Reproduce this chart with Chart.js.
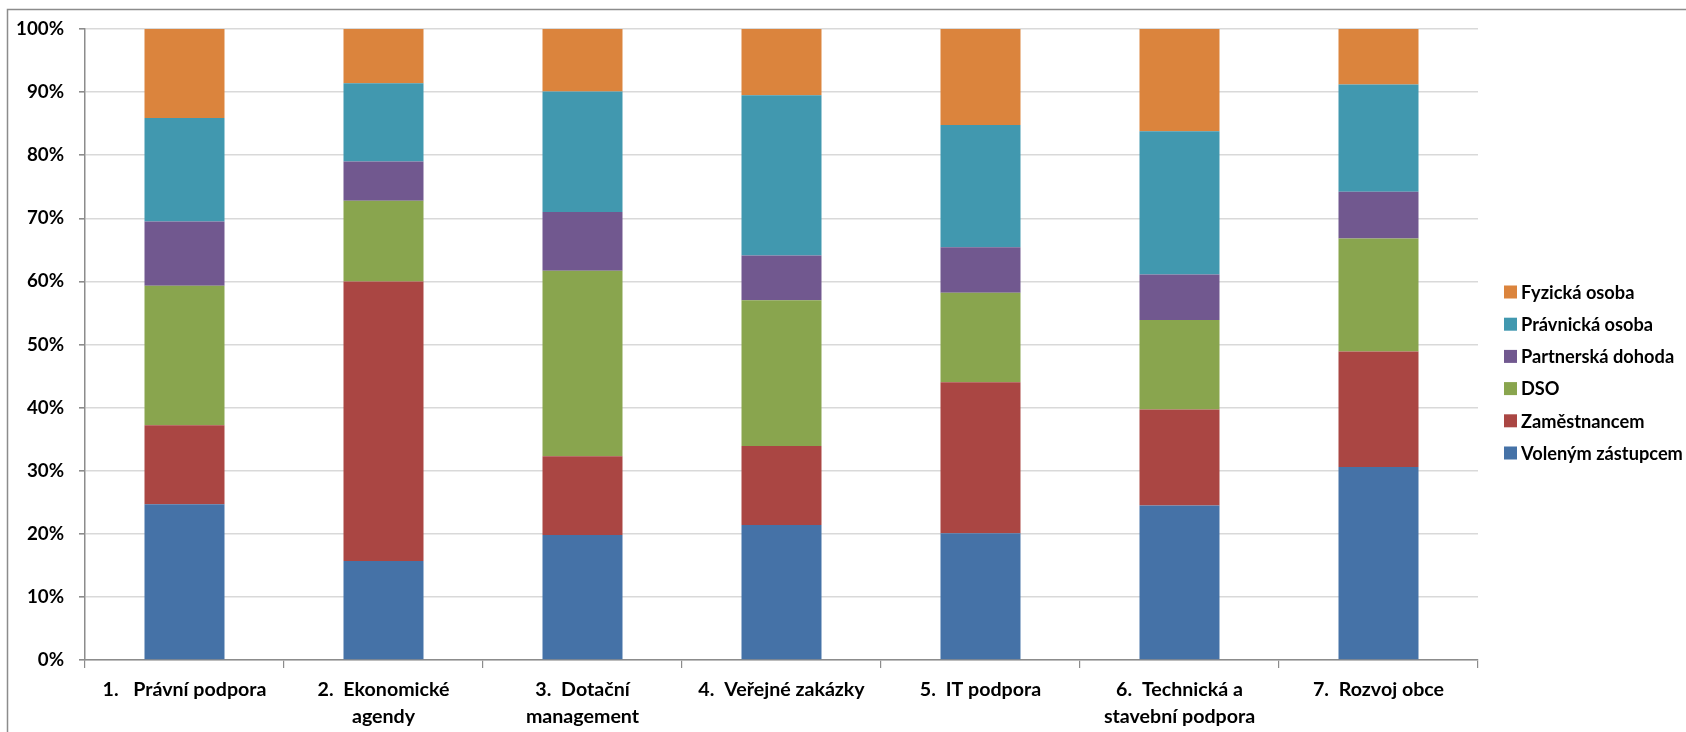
<!DOCTYPE html>
<html>
<head>
<meta charset="utf-8">
<script src="https://cdn.jsdelivr.net/npm/chart.js@4/dist/chart.umd.min.js"></script>
<style>
html,body{margin:0;padding:0;background:#fff;}
canvas{display:block;}
</style>
</head>
<body>
<canvas id="c" width="1686" height="732"></canvas>
<script>
const categories = [
  "1.\u2003Právní podpora",
  ["2.\u2002Ekonomické", "agendy"],
  ["3.\u2002Dotační", "management"],
  "4.\u2002Veřejné zakázky",
  "5.\u2002IT podpora",
  ["6.\u2002Technická a", "stavební podpora"],
  "7.\u2002Rozvoj obce"
];
const seriesNames = ["Voleným zástupcem", "Zaměstnancem", "DSO", "Partnerská dohoda", "Právnická osoba", "Fyzická osoba"];
const volenym    = [24.7, 15.7, 19.8, 21.4, 20.1, 24.5, 30.6];
const zamestnanc = [12.5, 44.3, 12.5, 12.5, 23.9, 15.2, 18.3];
const dso        = [22.1, 12.8, 29.4, 23.1, 14.2, 14.2, 17.9];
const partnerska = [10.2, 6.2, 9.3, 7.1, 7.2, 7.2, 7.4];
const pravnicka  = [16.4, 12.4, 19.1, 25.4, 19.4, 22.7, 17.0];
const fyzicka    = [14.1, 8.6, 9.9, 10.5, 15.2, 16.2, 8.8];
const yTicks = [0, 10, 20, 30, 40, 50, 60, 70, 80, 90, 100];

const colors = ["#4572A7", "#AA4643", "#89A54E", "#71588F", "#4198AF", "#DB843D"];
const seriesValues = [volenym, zamestnanc, dso, partnerska, pravnicka, fyzicka];

const FONT = "Lato, 'Open Sans', sans-serif";

// choose font sizes so that text widths match the reference (Calibri-like metrics)
const mctx = document.createElement('canvas').getContext('2d');
function fitSize(text, target, maxSize) {
  mctx.font = "bold 20px " + FONT;
  const w = mctx.measureText(text).width;
  return Math.min(maxSize, 20 * target / w);
}
const legendSize = fitSize("Voleným zástupcem", 162, 20);
const xSize = fitSize("1.\u2003Právní podpora", 164, 20);
const ySize = fitSize("100%", 48, 20);

const frame = {
  id: 'frame',
  beforeDraw(chart) {
    const ctx = chart.ctx;
    ctx.save();
    ctx.fillStyle = '#fff';
    ctx.fillRect(0, 0, chart.width, chart.height);
    ctx.strokeStyle = '#8c8c8c';
    ctx.lineWidth = 1.5;
    ctx.beginPath();
    ctx.moveTo(7.5, chart.height);
    ctx.lineTo(7.5, 9.5);
    ctx.lineTo(chart.width, 9.5);
    ctx.stroke();
    ctx.restore();
  }
};

const sideLegend = {
  id: 'sideLegend',
  afterDraw(chart) {
    const ctx = chart.ctx;
    const ds = chart.data.datasets;
    ctx.save();
    ctx.font = "bold " + legendSize + "px " + FONT;
    ctx.textBaseline = 'middle';
    ctx.textAlign = 'left';
    const x0 = 1504, y0 = 292, step = 32.2;
    for (let i = ds.length - 1, row = 0; i >= 0; i--, row++) {
      const y = y0 + row * step;
      ctx.fillStyle = ds[i].backgroundColor;
      ctx.fillRect(x0, y - 6.5, 13, 13);
      ctx.fillStyle = '#000';
      ctx.fillText(ds[i].label, x0 + 17, y + 1);
    }
    ctx.restore();
  }
};

new Chart(document.getElementById('c'), {
  type: 'bar',
  data: {
    labels: categories,
    datasets: seriesNames.map((n, i) => ({
      label: n,
      data: seriesValues[i],
      backgroundColor: colors[i],
      borderWidth: 0,
      barPercentage: 0.402,
      categoryPercentage: 1.0
    }))
  },
  options: {
    responsive: false,
    devicePixelRatio: 1,
    animation: false,
    layout: { padding: { left: 0, right: 208, top: 29, bottom: 0 } },
    plugins: {
      legend: { display: false },
      tooltip: { enabled: false }
    },
    scales: {
      x: {
        stacked: true,
        offset: true,
        grid: {
          offset: true,
          drawOnChartArea: false,
          drawTicks: true,
          tickLength: 8,
          color: '#8c8c8c',
          lineWidth: 1.2
        },
        border: { display: true, color: '#8c8c8c', width: 1.5 },
        ticks: {
          color: '#000',
          font: { family: FONT, size: xSize, weight: 'bold', lineHeight: 27 / xSize },
          padding: 8,
          maxRotation: 0,
          autoSkip: false
        },
        afterFit(scale) { scale.height = 72; }
      },
      y: {
        stacked: true,
        min: 0,
        max: 100,
        afterBuildTicks(scale) { scale.ticks = yTicks.map(v => ({ value: v })); },
        grid: {
          color: '#d9d9d9',
          lineWidth: 1.6,
          drawTicks: true,
          tickLength: 6,
          tickColor: '#8c8c8c'
        },
        border: { display: true, color: '#8c8c8c', width: 1.5 },
        ticks: {
          color: '#000',
          font: { family: FONT, size: ySize, weight: 'bold' },
          padding: 15,
          callback: v => v + '%'
        },
        afterFit(scale) { scale.width = 85; }
      }
    }
  },
  plugins: [frame, sideLegend]
});
</script>
</body>
</html>
